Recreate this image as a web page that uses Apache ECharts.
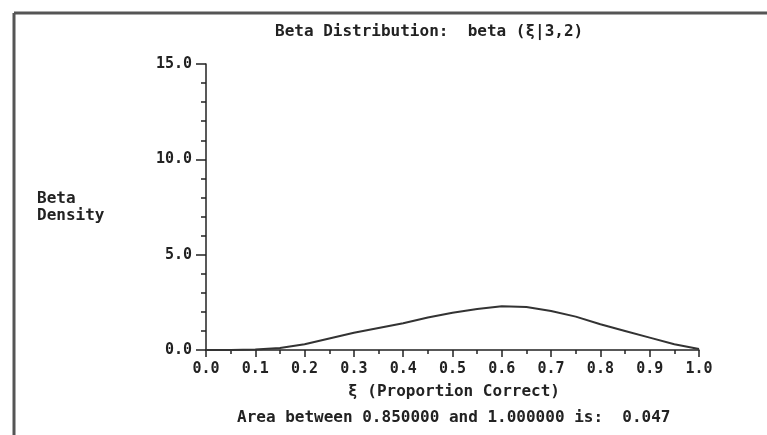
<!DOCTYPE html>
<html>
	<head>
		<meta charset="utf-8">
		<title>Beta Distribution</title>
		<style>
		html,body { height:100%; width:100%; margin:0; padding:0; background:#fff; }
		</style>
		<script src="https://cdn.jsdelivr.net/npm/echarts@6/dist/echarts.min.js"></script>
	</head>
	<body>
		<div id="main" style="height:435px;width:767px;"></div>
		<script type="text/javascript">
			// values
			var proportion = [0.00, 0.05, 0.10, 0.15, 0.20, 0.25, 0.30, 0.35, 0.40, 0.45, 0.50,
				0.55, 0.60, 0.65, 0.70, 0.75, 0.80, 0.85, 0.90, 0.95, 1.00];
			var density = [0.00, 0.00, 0.02, 0.10, 0.30, 0.60, 0.90, 1.15, 1.40, 1.70, 1.95,
				2.15, 2.30, 2.25, 2.05, 1.75, 1.35, 1.00, 0.65, 0.30, 0.05];
			var xTicks = ['0.0', '0.1', '0.2', '0.3', '0.4', '0.5', '0.6', '0.7', '0.8', '0.9', '1.0'];
			var yTicks = ['0.0', '5.0', '10.0', '15.0'];

			var ink = '#222';
			var mono = '"DejaVu Sans Mono", "Liberation Mono", monospace';

			var points = [];
			for (var i = 0; i < proportion.length; i++) {
				points.push([proportion[i], density[i]]);
			}

			var myChart = echarts.init(document.getElementById('main'));
			var option = {
				backgroundColor: '#fff',
				animation: false,
				grid: {
					left: 206,
					right: 68,
					top: 64,
					bottom: 85
				},
				xAxis: {
					type: 'value',
					min: 0,
					max: 1,
					interval: 0.1,
					splitLine: { show: false },
					axisLine: { lineStyle: { color: ink, width: 1.5 } },
					axisTick: { inside: false, length: 7, lineStyle: { color: ink, width: 1.5 } },
					minorTick: { show: true, splitNumber: 2, length: 4, lineStyle: { color: ink, width: 1.5 } },
					axisLabel: {
						margin: 12,
						color: ink,
						fontFamily: mono,
						fontWeight: 'bold',
						fontSize: 15,
						formatter: function (v) { return xTicks[Math.round(v * 10)]; }
					}
				},
				yAxis: {
					type: 'value',
					min: 0,
					max: 15,
					interval: 5,
					splitLine: { show: false },
					axisLine: { show: true, lineStyle: { color: ink, width: 1.5 } },
					axisTick: { inside: false, length: 10, lineStyle: { color: ink, width: 1.5 } },
					minorTick: { show: true, splitNumber: 5, length: 5, lineStyle: { color: ink, width: 1.5 } },
					axisLabel: {
						margin: 14,
						color: ink,
						fontFamily: mono,
						fontWeight: 'bold',
						fontSize: 15,
						formatter: function (v) { return yTicks[Math.round(v / 5)]; }
					}
				},
				series: [{
					type: 'line',
					data: points,
					symbol: 'none',
					lineStyle: { color: '#333', width: 2 }
				}],
				graphic: [
					{ type: 'line', shape: { x1: 14, y1: 13, x2: 767, y2: 13 }, style: { stroke: '#555', lineWidth: 3 } },
					{ type: 'line', shape: { x1: 14, y1: 13, x2: 14, y2: 435 }, style: { stroke: '#555', lineWidth: 3 } },
					{
						type: 'text', left: 275, top: 24,
						style: { text: 'Beta Distribution:  beta (\u03be|3,2)', fill: ink, font: 'bold 16px ' + mono }
					},
					{
						type: 'text', left: 37, top: 190,
						style: { text: 'Beta\nDensity', fill: ink, font: 'bold 16px ' + mono, lineHeight: 17 }
					},
					{
						type: 'text', left: 348, top: 384,
						style: { text: '\u03be (Proportion Correct)', fill: ink, font: 'bold 16px ' + mono }
					},
					{
						type: 'text', left: 237, top: 410,
						style: { text: 'Area between 0.850000 and 1.000000 is:  0.047', fill: ink, font: 'bold 16px ' + mono }
					}
				]
			};
			myChart.setOption(option);
		</script>
	</body>
</html>
